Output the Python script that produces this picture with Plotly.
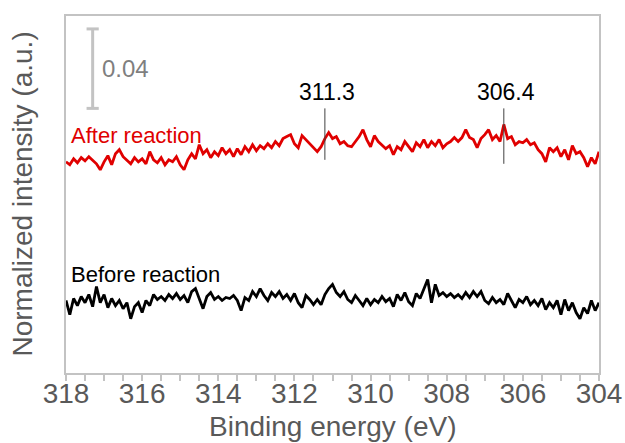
import plotly.graph_objects as go

# Binding energy grid (eV), 318 -> 304 in 0.1 eV steps
energy = [round(318.0 - 0.1 * i, 1) for i in range(141)]

after_reaction = [
    0.1063, 0.1048, 0.1078, 0.1058, 0.1084, 0.1068, 0.1089, 0.1073, 0.1053, 0.1023,
    0.1063, 0.1094, 0.1048, 0.1104, 0.1124, 0.1089, 0.1073, 0.1053, 0.1084, 0.1063,
    0.1078, 0.1053, 0.1114, 0.1073, 0.1058, 0.1084, 0.1048, 0.1073, 0.1063, 0.1089,
    0.1048, 0.1023, 0.1073, 0.1104, 0.1078, 0.1149, 0.1104, 0.1124, 0.1084, 0.1114,
    0.1094, 0.1134, 0.1104, 0.1124, 0.1089, 0.1129, 0.1099, 0.1139, 0.1114, 0.1149,
    0.1119, 0.1144, 0.1129, 0.1154, 0.1134, 0.1165, 0.1144, 0.1180, 0.1190, 0.1200,
    0.1154, 0.1134, 0.1195, 0.1175, 0.1154, 0.1139, 0.1114, 0.1139, 0.1180, 0.1210,
    0.1180, 0.1190, 0.1154, 0.1165, 0.1144, 0.1139, 0.1165, 0.1190, 0.1225, 0.1175,
    0.1139, 0.1195, 0.1165, 0.1149, 0.1129, 0.1144, 0.1099, 0.1139, 0.1124, 0.1165,
    0.1139, 0.1114, 0.1159, 0.1139, 0.1175, 0.1134, 0.1165, 0.1144, 0.1175, 0.1134,
    0.1154, 0.1165, 0.1185, 0.1165, 0.1185, 0.1225, 0.1185, 0.1175, 0.1134, 0.1180,
    0.1200, 0.1225, 0.1175, 0.1195, 0.1165, 0.1251, 0.1180, 0.1190, 0.1149, 0.1165,
    0.1159, 0.1175, 0.1149, 0.1159, 0.1124, 0.1104, 0.1063, 0.1134, 0.1114, 0.1134,
    0.1089, 0.1124, 0.1073, 0.1144, 0.1104, 0.1114, 0.1084, 0.1038, 0.1084, 0.1053,
    0.1114,
]

before_reaction = [
    0.0365, 0.0294, 0.0375, 0.0339, 0.0385, 0.0354, 0.0395, 0.0334, 0.0435, 0.0354,
    0.0395, 0.0329, 0.0375, 0.0339, 0.0365, 0.0324, 0.0354, 0.0273, 0.0334, 0.0354,
    0.0304, 0.0365, 0.0339, 0.0395, 0.0370, 0.0385, 0.0365, 0.0395, 0.0375, 0.0400,
    0.0370, 0.0390, 0.0354, 0.0410, 0.0425, 0.0375, 0.0324, 0.0385, 0.0405, 0.0370,
    0.0385, 0.0365, 0.0380, 0.0375, 0.0390, 0.0365, 0.0314, 0.0380, 0.0365, 0.0410,
    0.0385, 0.0425, 0.0390, 0.0365, 0.0405, 0.0385, 0.0410, 0.0375, 0.0395, 0.0365,
    0.0400, 0.0354, 0.0329, 0.0390, 0.0370, 0.0344, 0.0370, 0.0344, 0.0395, 0.0425,
    0.0446, 0.0405, 0.0385, 0.0410, 0.0370, 0.0354, 0.0390, 0.0365, 0.0339, 0.0375,
    0.0344, 0.0370, 0.0354, 0.0385, 0.0359, 0.0375, 0.0334, 0.0395, 0.0365, 0.0405,
    0.0359, 0.0339, 0.0400, 0.0375, 0.0425, 0.0471, 0.0354, 0.0446, 0.0390, 0.0405,
    0.0385, 0.0400, 0.0380, 0.0395, 0.0375, 0.0405, 0.0380, 0.0410, 0.0385, 0.0410,
    0.0365, 0.0349, 0.0380, 0.0354, 0.0370, 0.0344, 0.0400, 0.0365, 0.0329, 0.0370,
    0.0354, 0.0385, 0.0344, 0.0365, 0.0339, 0.0375, 0.0319, 0.0354, 0.0329, 0.0365,
    0.0294, 0.0370, 0.0314, 0.0354, 0.0304, 0.0273, 0.0329, 0.0299, 0.0365, 0.0314,
    0.0354,
]

x_ticks = [318, 316, 314, 312, 310, 308, 306, 304]
peak_positions = [311.2, 306.5]
peak_labels = ["311.3", "306.4"]
peak_line_bottom = [0.1073, 0.1053]
peak_line_top = 0.1332
scale_bar_value = 0.04
scale_bar_bottom = 0.1332
scale_bar_x = 317.3
y_range = [0, 0.1797]

FONT = "Liberation Sans, Arial, sans-serif"
GRAY = "#595959"
BORDER = "#c3c3c3"

fig = go.Figure()
fig.add_trace(go.Scatter(x=energy, y=after_reaction, mode="lines",
                         line=dict(color="#e00000", width=2.8), showlegend=False))
fig.add_trace(go.Scatter(x=energy, y=before_reaction, mode="lines",
                         line=dict(color="#000000", width=2.8), showlegend=False))

shapes = []
for px, yb in zip(peak_positions, peak_line_bottom):
    shapes.append(dict(type="line", xref="x", yref="y", x0=px, x1=px, y0=yb, y1=peak_line_top,
                       line=dict(color="#404040", width=1)))
# scale bar
sb_top = scale_bar_bottom + scale_bar_value
shapes.append(dict(type="line", xref="x", yref="y", x0=scale_bar_x, x1=scale_bar_x,
                   y0=scale_bar_bottom, y1=sb_top, line=dict(color="#c3c3c3", width=3)))
for yy in (scale_bar_bottom, sb_top):
    shapes.append(dict(type="line", xref="x", yref="y", x0=scale_bar_x + 0.16, x1=scale_bar_x - 0.16,
                       y0=yy, y1=yy, line=dict(color="#c3c3c3", width=3)))

annotations = []
for px, lab in zip(peak_positions, peak_labels):
    annotations.append(dict(x=px, y=peak_line_top, xref="x", yref="y", text=lab, showarrow=False,
                            yanchor="bottom", xanchor="center", yshift=1, xshift=2,
                            font=dict(family=FONT, size=23, color="#000000")))
annotations.append(dict(x=scale_bar_x, y=scale_bar_bottom + scale_bar_value / 2, xref="x", yref="y",
                        text="0.04", showarrow=False, xanchor="left", yanchor="middle", xshift=7,
                        font=dict(family=FONT, size=24, color="#7f7f7f")))
annotations.append(dict(x=318, y=0.1195, xref="x", yref="y", text="After reaction", showarrow=False,
                        xanchor="left", yanchor="middle", xshift=3,
                        font=dict(family=FONT, size=22, color="#e00000")))
annotations.append(dict(x=318, y=0.0496, xref="x", yref="y", text="Before reaction", showarrow=False,
                        xanchor="left", yanchor="middle", xshift=3,
                        font=dict(family=FONT, size=22, color="#000000")))
annotations.append(dict(x=0, y=0.5, xref="paper", yref="paper", text="Normalized intensity (a.u.)",
                        showarrow=False, textangle=-90, xanchor="center", yanchor="middle", xshift=-44,
                        font=dict(family=FONT, size=28, color=GRAY)))
annotations.append(dict(x=0.5, y=0, xref="paper", yref="paper", text="Binding energy (eV)",
                        showarrow=False, xanchor="center", yanchor="middle", yshift=-53,
                        font=dict(family=FONT, size=28, color=GRAY)))

fig.update_layout(
    width=625, height=443,
    margin=dict(l=66, r=26, t=16, b=70, autoexpand=False),
    paper_bgcolor="white", plot_bgcolor="white",
    shapes=shapes, annotations=annotations,
    font=dict(family=FONT, color=GRAY),
)
fig.update_xaxes(range=[318, 304], tickvals=x_ticks, ticktext=[str(t) for t in x_ticks],
                 ticks="outside", ticklen=6, tickwidth=1.5, tickcolor=BORDER,
                 minor=dict(dtick=0.5, tick0=304, ticks="outside", ticklen=6, tickwidth=1.5, tickcolor=BORDER),
                 showline=True, linecolor=BORDER, linewidth=2, mirror=True, showgrid=False,
                 zeroline=False, ticklabelstandoff=-12, tickfont=dict(family=FONT, size=28, color=GRAY))
fig.update_yaxes(range=y_range, showticklabels=False, ticks="", showline=True, linecolor=BORDER,
                 linewidth=2, mirror=True, showgrid=False, zeroline=False)

fig.write_html("out.html")
